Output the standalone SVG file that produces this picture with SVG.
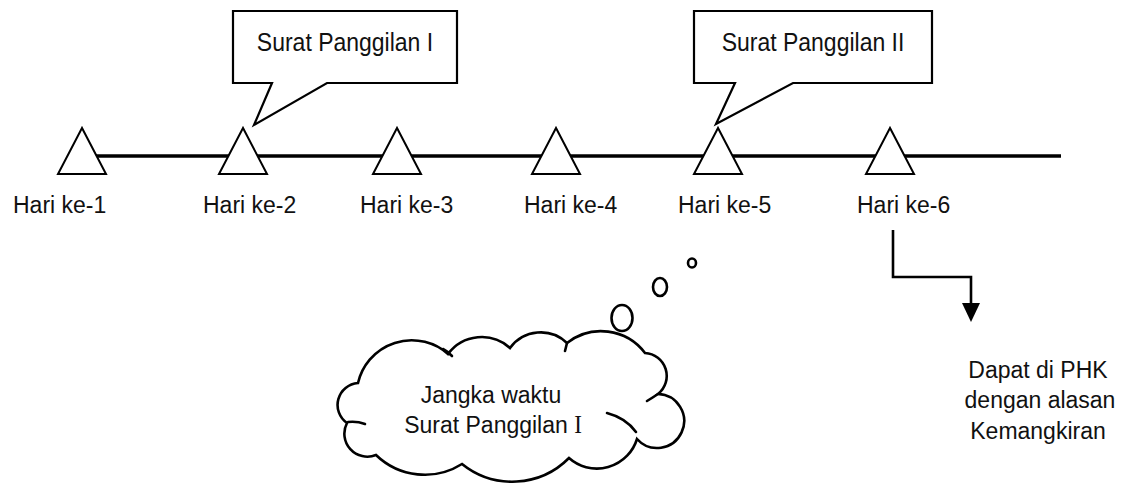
<svg xmlns="http://www.w3.org/2000/svg" width="1126" height="483" viewBox="0 0 1126 483">
<style>
.t{font-family:"Liberation Sans",Arial,sans-serif;font-size:23px;fill:#111}
.mk{fill:#fff;stroke:#000;stroke-width:2}
.call{fill:#fff;stroke:#000;stroke-width:2.2;stroke-linejoin:miter}
.ln{fill:none;stroke:#000;stroke-width:3.5}
.cn{fill:none;stroke:#000;stroke-width:2.6}
.cl{fill:#fff;stroke:#000;stroke-width:2.6}
.cs{fill:none;stroke:#000;stroke-width:2.6;stroke-linecap:round}
</style>
<rect width="1126" height="483" fill="#fff"/>
<g id="timeline">
<line class="ln" x1="82" y1="156" x2="1061" y2="156"/>
</g>
<g id="day1"><polygon class="mk" points="82,128 58,174 106,174"/><text class="t" transform="translate(13,213) scale(1,1.08)">Hari ke-1</text></g>
<g id="day2"><polygon class="mk" points="243,128 219,174 267,174"/><text class="t" transform="translate(203,213) scale(1,1.08)">Hari ke-2</text></g>
<g id="day3"><polygon class="mk" points="397,128 373,174 421,174"/><text class="t" transform="translate(360,213) scale(1,1.08)">Hari ke-3</text></g>
<g id="day4"><polygon class="mk" points="556,128 532,174 580,174"/><text class="t" transform="translate(524,213) scale(1,1.08)">Hari ke-4</text></g>
<g id="day5"><polygon class="mk" points="718,128 694,174 742,174"/><text class="t" transform="translate(678,213) scale(1,1.08)">Hari ke-5</text></g>
<g id="day6"><polygon class="mk" points="890,128 866,174 914,174"/><text class="t" transform="translate(857,213) scale(1,1.08)">Hari ke-6</text></g>
<g id="callout1">
<path class="call" d="M233,11 H457 V83 H327 L254,125 L272,83 H233 Z"/>
<text class="t" text-anchor="middle" transform="translate(345,51) scale(1,1.1)">Surat Panggilan I</text>
</g>
<g id="callout2">
<path class="call" d="M694,11 H932 V83 H793 L716,124 L735,83 H694 Z"/>
<text class="t" text-anchor="middle" transform="translate(813,51) scale(1,1.1)">Surat Panggilan II</text>
</g>
<g id="thought">
<ellipse class="cl" cx="692" cy="263" rx="4" ry="4.5"/>
<ellipse class="cl" cx="660" cy="287" rx="7" ry="9"/>
<ellipse class="cl" cx="622" cy="318" rx="10.5" ry="13"/>
<path class="cl" d="M358,383 A55,55 0 0 1 448,354 A42,42 0 0 1 510,348 A38,38 0 0 1 567,343 A55,55 0 0 1 645,353 A23,23 0 0 1 658,394 A27,27 0 1 1 637,439 A42,42 0 0 1 569,458 A80,80 0 0 1 462,464 A70,70 0 0 1 376,455 A23,23 0 0 1 347,423 A22,22 0 0 1 358,383 Z"/>
<path class="cs" d="M607,413 Q626,418 636,432"/>
<path class="cs" d="M348,422 Q357,421 365,424"/>
<path class="cs" d="M443,349 Q447,351 452,356"/>
<path class="cs" d="M658,394 Q652,398 647,401"/>
<path class="cs" d="M567,343 Q566,347 565,351"/>
<text class="t" text-anchor="middle" transform="translate(491,403) scale(1,1.08)">Jangka waktu</text>
<text class="t" text-anchor="middle" transform="translate(493,433) scale(1,1.08)">Surat Panggilan <tspan font-family="Liberation Serif, serif">I</tspan></text>
</g>
<g id="connectors">
<polyline class="cn" points="893,230 893,277 971,277 971,305"/>
<polygon points="962,303 980,303 971,322" fill="#000"/>
</g>
<g id="result">
<text class="t" text-anchor="middle" transform="translate(1038,378) scale(1,1.08)">Dapat di PHK</text>
<text class="t" text-anchor="middle" transform="translate(1040,408) scale(1,1.08)">dengan alasan</text>
<text class="t" text-anchor="middle" transform="translate(1038,439) scale(1,1.08)">Kemangkiran</text>
</g>
</svg>
